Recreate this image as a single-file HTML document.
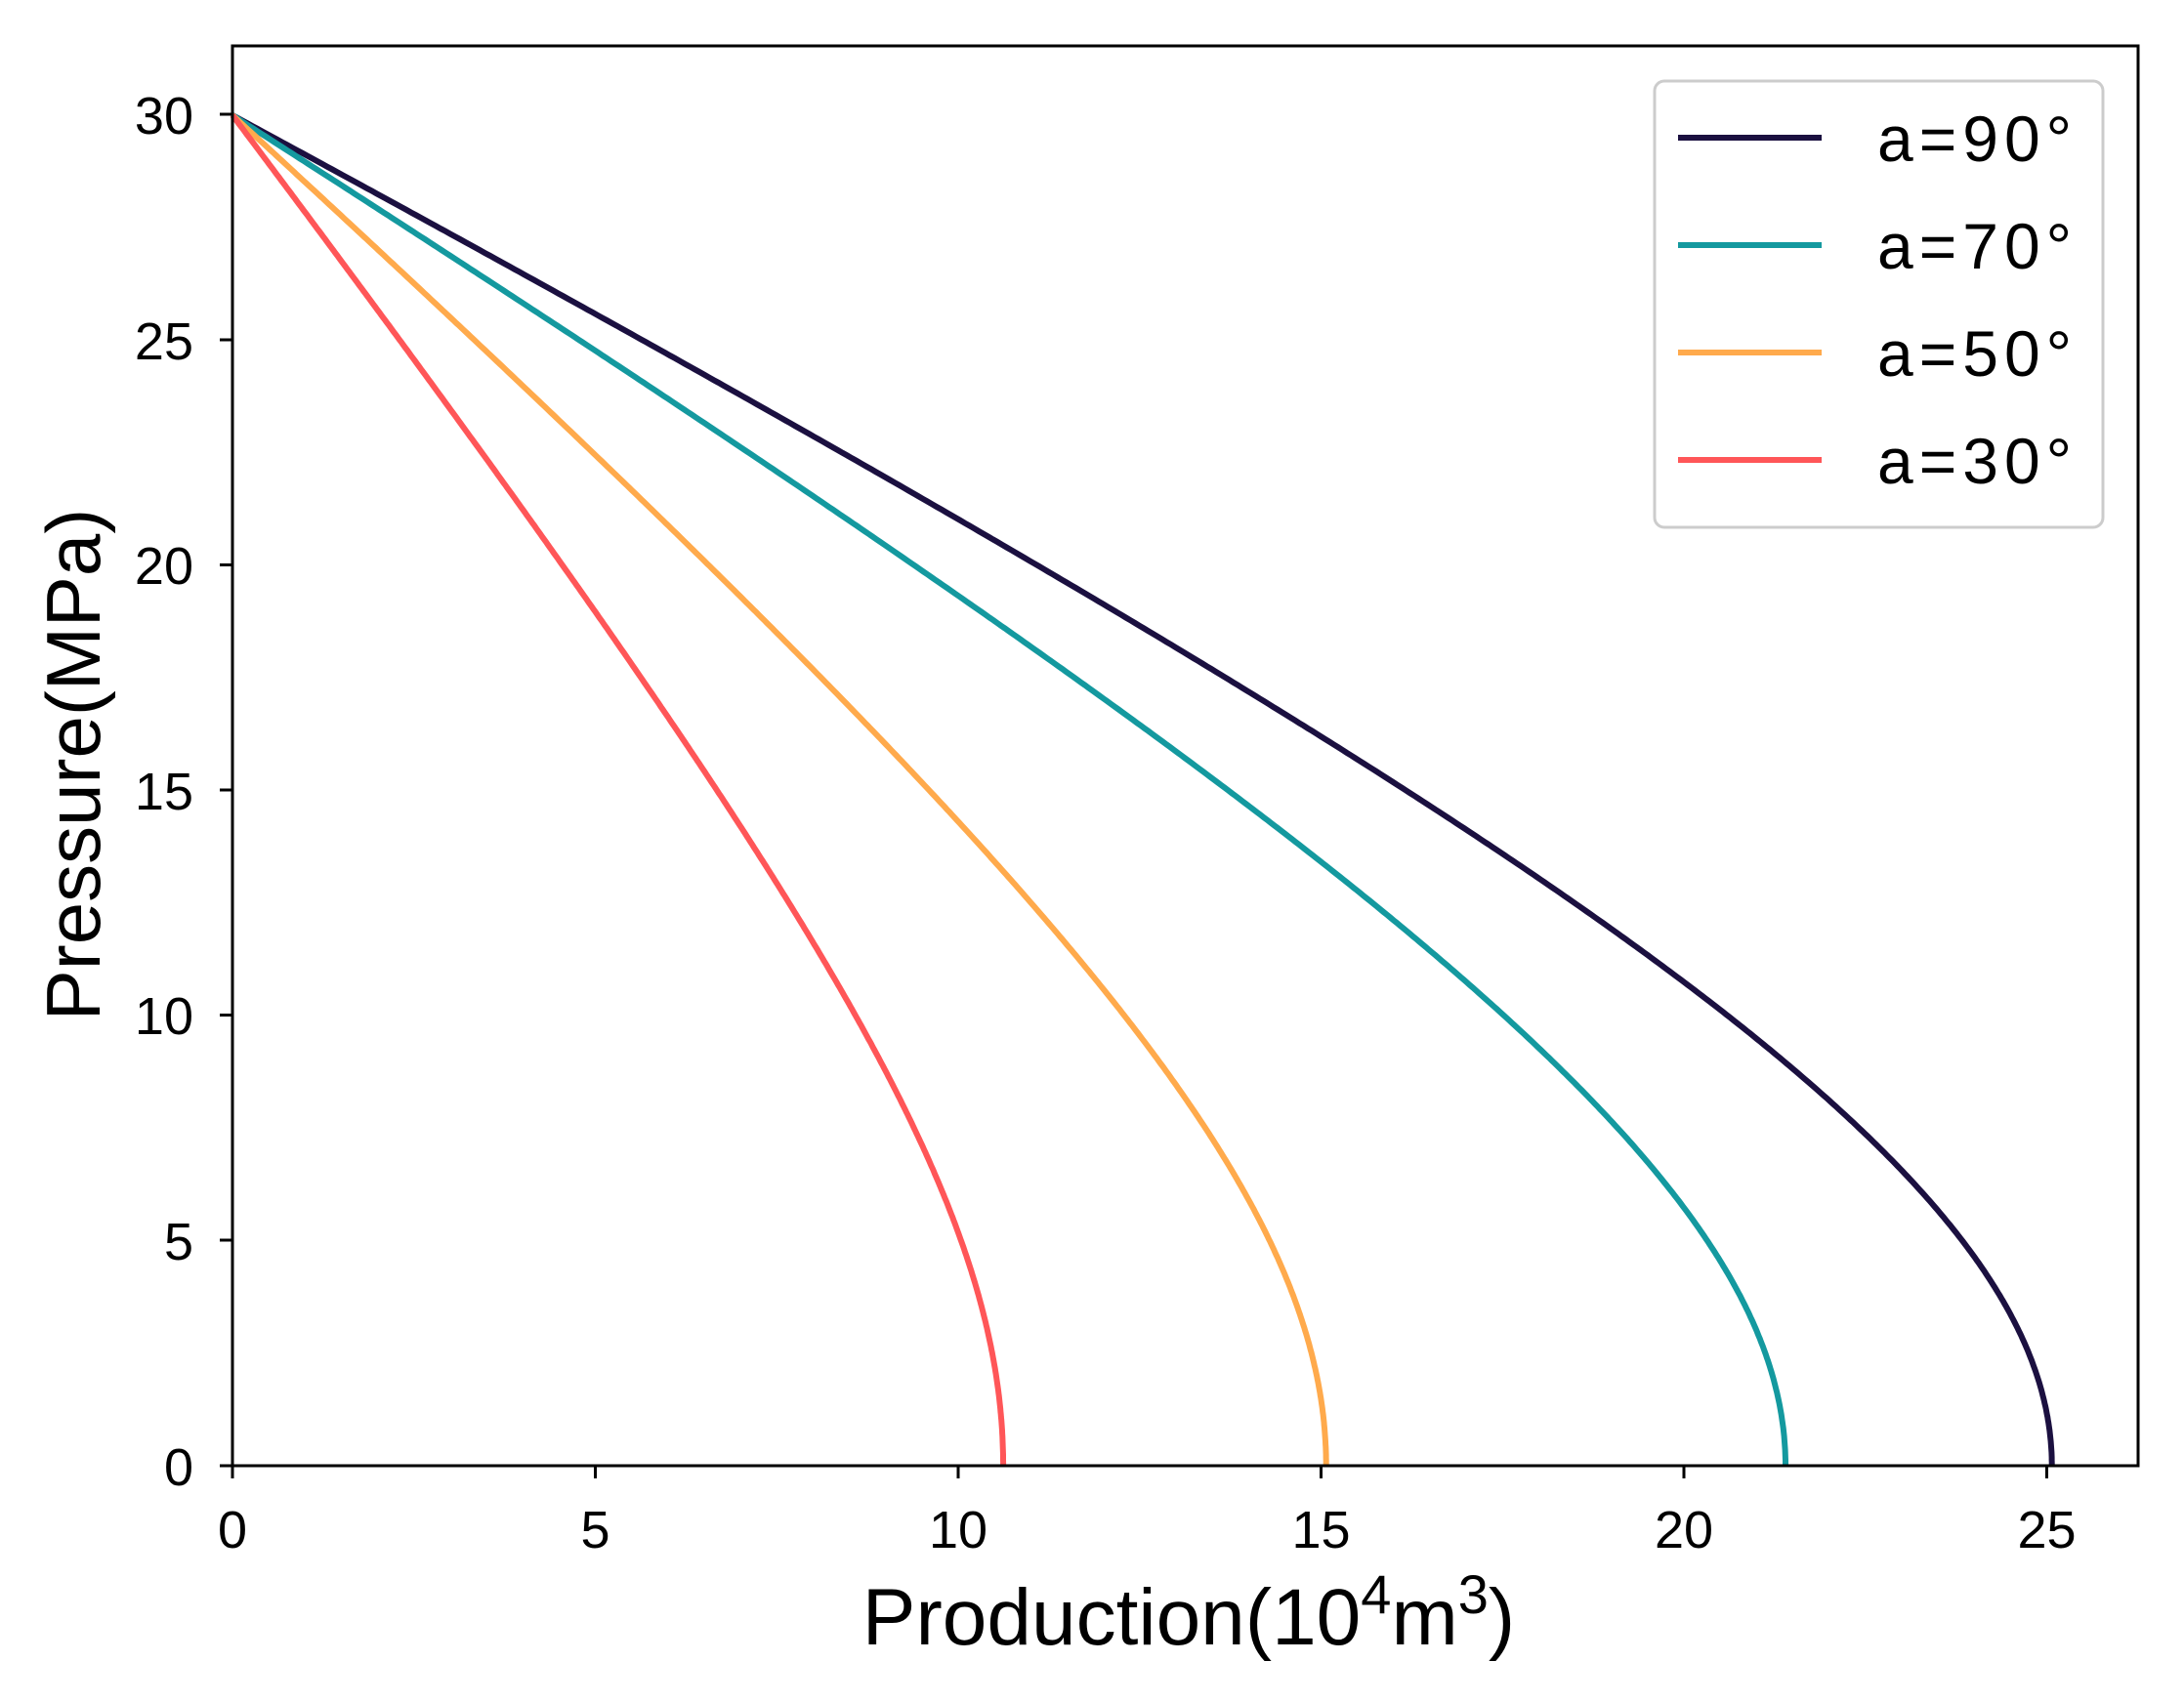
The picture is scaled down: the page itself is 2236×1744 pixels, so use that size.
<!DOCTYPE html>
<html><head><meta charset="utf-8"><style>
html,body{margin:0;padding:0;background:#fff;}
svg{display:block;}
text{font-family:"Liberation Sans","DejaVu Sans",sans-serif;fill:#000;}
</style></head><body>
<svg id="s" width="2236" height="1744" viewBox="0 0 2236 1744" xmlns="http://www.w3.org/2000/svg">
<rect width="2236" height="1744" fill="#fff"/>
<g id="curves"></g>
<rect x="238" y="47" width="1951" height="1454" fill="none" stroke="#000" stroke-width="3"/>
<g stroke="#000" stroke-width="3">
<line x1="238" y1="1501" x2="238" y2="1514"/><line x1="609.5" y1="1501" x2="609.5" y2="1514"/>
<line x1="981" y1="1501" x2="981" y2="1514"/><line x1="1352.5" y1="1501" x2="1352.5" y2="1514"/>
<line x1="1724" y1="1501" x2="1724" y2="1514"/><line x1="2095.5" y1="1501" x2="2095.5" y2="1514"/>
<line x1="225" y1="1501" x2="238" y2="1501"/><line x1="225" y1="1270" x2="238" y2="1270"/>
<line x1="225" y1="1039.5" x2="238" y2="1039.5"/><line x1="225" y1="578.5" x2="238" y2="578.5"/>
<line x1="225" y1="809" x2="238" y2="809"/><line x1="225" y1="348" x2="238" y2="348"/>
<line x1="225" y1="117" x2="238" y2="117"/>
</g>
<g font-size="54" text-anchor="middle">
<text x="238" y="1585">0</text><text x="609.5" y="1585">5</text><text x="981" y="1585">10</text>
<text x="1352.5" y="1585">15</text><text x="1724" y="1585">20</text><text x="2095.5" y="1585">25</text>
</g>
<g font-size="54" text-anchor="end">
<text x="198" y="1521">0</text><text x="198" y="1290">5</text><text x="198" y="1059">10</text>
<text x="198" y="829">15</text><text x="198" y="598">20</text><text x="198" y="368">25</text><text x="198" y="137">30</text>
</g>
<text x="1217" y="1684" font-size="82" text-anchor="middle">Production(10<tspan font-size="56" dy="-32">4</tspan><tspan dy="32">m</tspan><tspan font-size="56" dy="-32">3</tspan><tspan dy="32">)</tspan></text>
<text transform="translate(102,783) rotate(-90)" font-size="78" text-anchor="middle">Pressure(MPa)</text>
<rect x="1694" y="83" width="459" height="457" rx="10" fill="#fff" stroke="#ccc" stroke-width="3"/>
<g stroke-width="6">
<line x1="1718" y1="141" x2="1865" y2="141" stroke="#1b1040"/>
<line x1="1718" y1="251" x2="1865" y2="251" stroke="#14999f"/>
<line x1="1718" y1="361" x2="1865" y2="361" stroke="#ffaa4c"/>
<line x1="1718" y1="471" x2="1865" y2="471" stroke="#ff5658"/>
</g>
<g font-size="66" letter-spacing="6">
<text x="1922" y="165">a=90°</text><text x="1922" y="275">a=70°</text>
<text x="1922" y="385">a=50°</text><text x="1922" y="495">a=30°</text>
</g>
</svg>
<script>
var cs=[[25.07,12,"#1b1040"],[21.4,11.5,"#14999f"],[15.07,11,"#ffaa4c"],[10.62,10,"#ff5658"]];
var g=document.getElementById("curves"),h="";
cs.forEach(function(c){var X=c[0],k=c[1],top=Math.sqrt(900+k*k),den=top-k;var d="";
for(var i=0;i<=500;i++){var p=30*(1-i/500);var x=X*(top-Math.sqrt(p*p+k*k))/den;
var px=238+x*74.3,py=1501-p*46.1;d+=(i?"L":"M")+px.toFixed(1)+","+py.toFixed(1);}
h+='<path d="'+d+'" fill="none" stroke="'+c[2]+'" stroke-width="6"/>';});
g.innerHTML=h;
</script>
</body></html>
